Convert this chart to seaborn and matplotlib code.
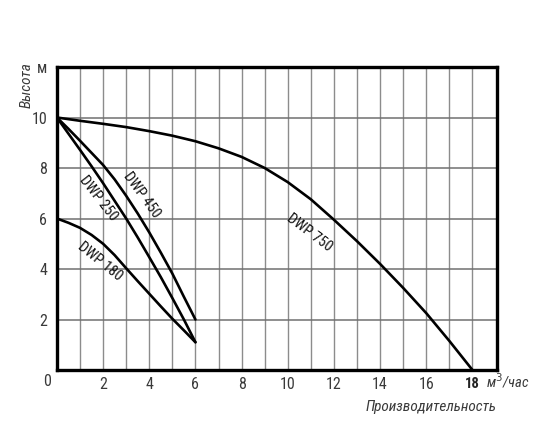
import numpy as np
import pandas as pd
import matplotlib
matplotlib.use("Agg")
import matplotlib.pyplot as plt
from matplotlib import font_manager
import seaborn as sns

# ---- data ----
x750 = [0, 1, 2, 3, 4, 5, 6, 7, 8, 9, 10, 11, 12, 13, 14, 15, 16, 17, 18]
y750 = [10, 9.87, 9.75, 9.62, 9.46, 9.28, 9.06, 8.78, 8.44, 8.0, 7.44, 6.76, 5.95, 5.1, 4.2, 3.25, 2.25, 1.15, 0.0]

x450 = [0, 0.5, 1, 1.5, 2, 2.5, 3, 3.5, 4, 4.5, 5, 5.5, 6]
y450 = [10, 9.55, 9.08, 8.6, 8.12, 7.55, 6.9, 6.2, 5.45, 4.65, 3.82, 2.9, 2.0]

x250 = [0, 0.5, 1, 1.5, 2, 2.5, 3, 3.5, 4, 4.5, 5, 5.5, 6]
y250 = [10, 9.36, 8.72, 8.07, 7.4, 6.7, 6.0, 5.25, 4.47, 3.68, 2.85, 2.0, 1.1]

x180 = [0, 0.5, 1, 1.5, 2, 2.5, 3, 3.5, 4, 4.5, 5, 5.5, 6]
y180 = [6.0, 5.83, 5.63, 5.35, 5.0, 4.55, 4.03, 3.52, 3.02, 2.52, 2.03, 1.57, 1.1]

series_names = ["DWP 750", "DWP 450", "DWP 250", "DWP 180"]
x_tick_labels = ["2", "4", "6", "8", "10", "12", "14", "16", "18"]
y_tick_labels = ["2", "4", "6", "8", "10", "м"]

frames = []
for name, xs, ys in zip(series_names, [x750, x450, x250, x180], [y750, y450, y250, y180]):
    frames.append(pd.DataFrame({"Q": xs, "H": ys, "model": name}))
df = pd.concat(frames, ignore_index=True)

sns.set_theme(style="white")

# prefer a narrow / condensed face if one is installed
names = {f.name for f in font_manager.fontManager.ttflist}
narrow = [n for n in ["Liberation Sans Narrow", "Roboto Condensed", "Open Sans Condensed",
                      "DejaVu Sans Condensed", "Noto Sans Condensed"] if n in names]
FONT = narrow + ["Liberation Sans", "DejaVu Sans"]
plt.rcParams["font.family"] = FONT
TXT = "#3a3a3a"

fig = plt.figure(figsize=(5.52, 4.40), dpi=100)
ax = fig.add_axes([56.9 / 552, 1 - 370 / 440, (496.7 - 56.9) / 552, (370 - 67) / 440])

sns.lineplot(data=df, x="Q", y="H", units="model", estimator=None, sort=False,
             color="black", linewidth=1.9, ax=ax, legend=False)

ax.set_xlim(0, 19.05)
ax.set_ylim(0, 12)

# grid
for gx in range(1, 19):
    ax.axvline(gx, color="#8c8c8c", linewidth=1.0, zorder=0)
for gy in [2, 4, 6, 8, 10]:
    ax.axhline(gy, color="#707070", linewidth=1.1, zorder=0)

for s in ax.spines.values():
    s.set_visible(True)
    s.set_color("black")
    s.set_linewidth(2.4)

ax.set_xticks([2, 4, 6, 8, 10, 12, 14, 16, 18])
ax.set_xticklabels(x_tick_labels)
ax.set_yticks([2, 4, 6, 8, 10, 12])
ax.set_yticklabels(y_tick_labels)
ax.tick_params(axis="both", length=0, labelsize=11.5, labelcolor=TXT)
ax.tick_params(axis="x", pad=5)
ax.tick_params(axis="y", pad=7)
for lab in ax.get_xticklabels():
    if lab.get_text() == "18":
        lab.set_fontweight("bold")
        lab.set_fontsize(10.5)
        lab.set_color("#222222")
ax.set_xlabel("")
ax.set_ylabel("")

# corner zero and axis texts
fig.text(47 / 552, 1 - 381 / 440, "0", ha="center", va="center", fontsize=11.5, color=TXT, family=FONT)
fig.text(486 / 552, 1 - 381 / 440, "м$^3$/час", ha="left", va="center", fontsize=10.5,
         style="italic", color=TXT, family=FONT)
fig.text(497 / 552, 1 - 407 / 440, "Производительность", ha="right", va="center", fontsize=11,
         style="italic", color=TXT, family=FONT)
fig.text(27 / 552, 1 - 85 / 440, "Высота", ha="center", va="center", rotation=90, fontsize=11,
         style="italic", color=TXT, family=FONT)

# curve labels
lab_kw = dict(ha="center", va="center", fontsize=10.5, color="#111111", family=FONT,
              rotation_mode="anchor")
ax.text(10.95, 5.42, "DWP 750", rotation=-37, **lab_kw)
ax.text(3.68, 6.92, "DWP 450", rotation=-54, **lab_kw)
ax.text(1.81, 6.80, "DWP 250", rotation=-52, **lab_kw)
ax.text(1.88, 4.29, "DWP 180", rotation=-39, **lab_kw)

fig.savefig("out.png", dpi=100)
